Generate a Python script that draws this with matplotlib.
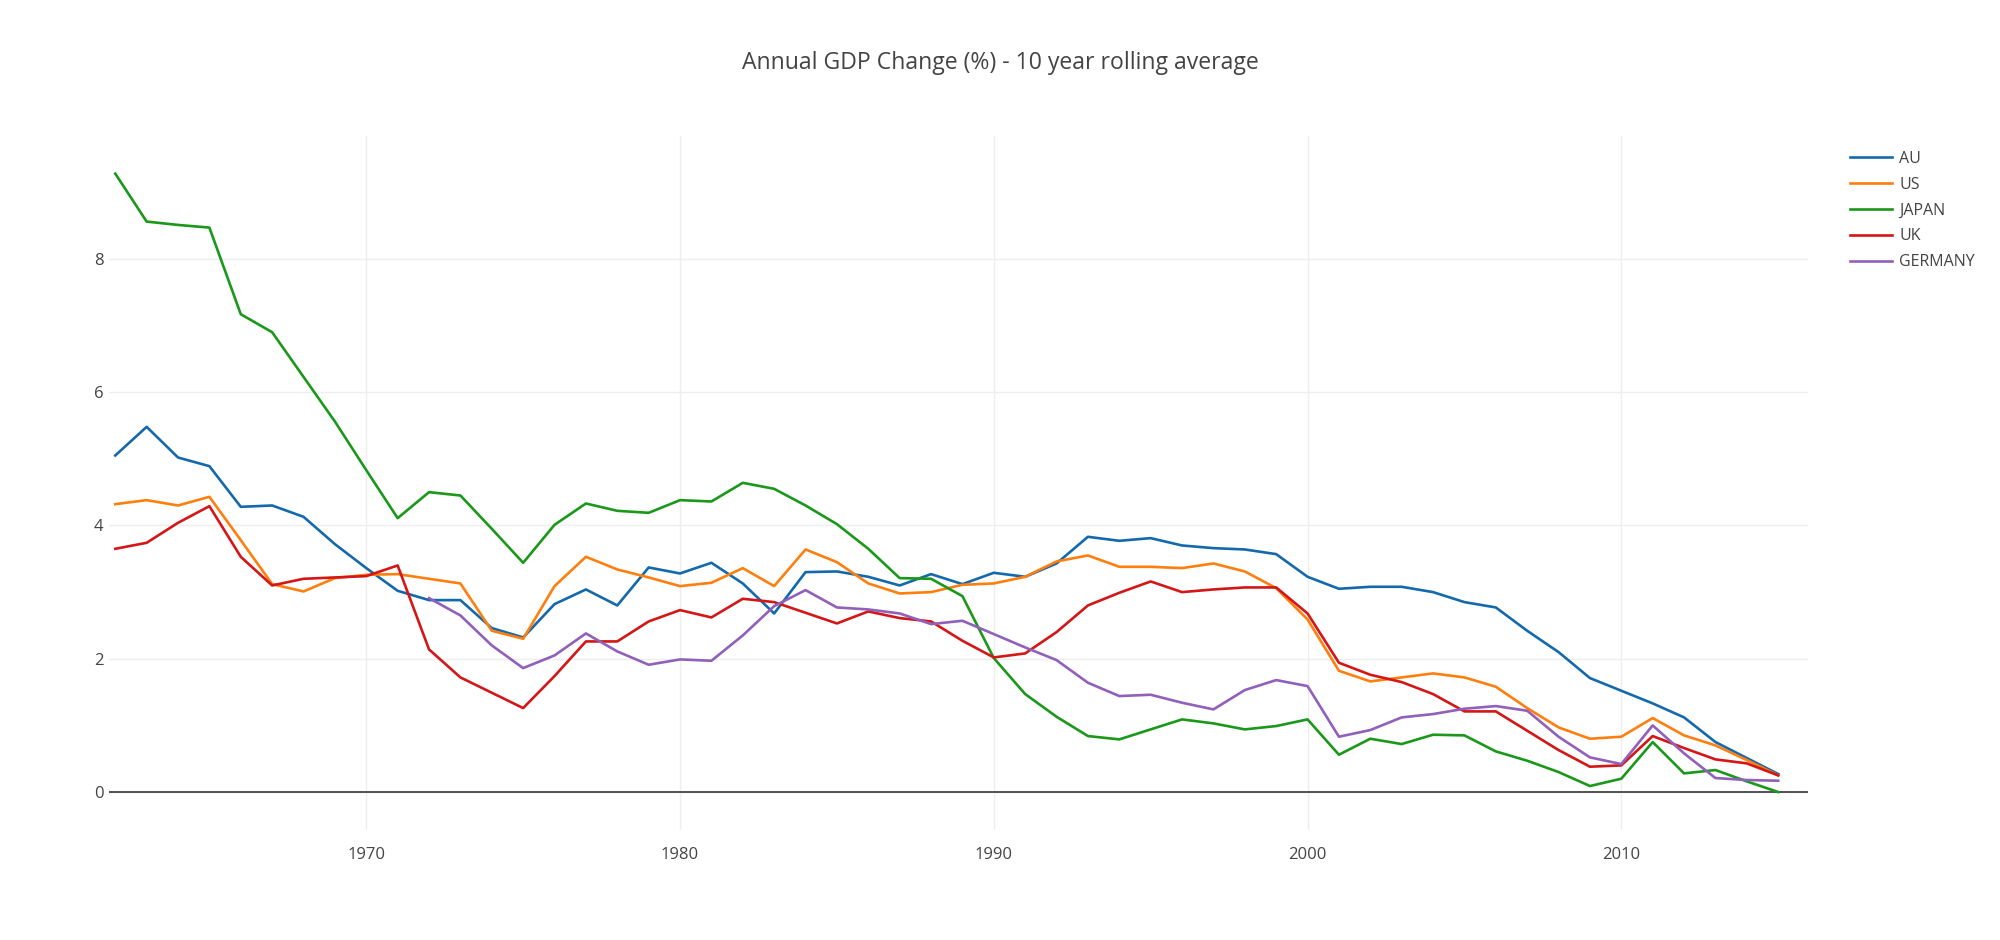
import matplotlib
matplotlib.use("Agg")
import matplotlib.pyplot as plt
import numpy as np

# data (10 year rolling average of annual GDP change, %)
years = list(range(1962, 2016))
germany_years = list(range(1972, 2016))

au = [5.05, 5.48, 5.02, 4.89, 4.28, 4.30, 4.13, 3.72, 3.36, 3.02,
      2.88, 2.88, 2.46, 2.32, 2.82, 3.04, 2.80, 3.37, 3.28, 3.44,
      3.13, 2.68, 3.30, 3.31, 3.23, 3.10, 3.27, 3.12, 3.29, 3.23,
      3.43, 3.83, 3.77, 3.81, 3.70, 3.66, 3.64, 3.57, 3.23, 3.05,
      3.08, 3.08, 3.00, 2.85, 2.77, 2.42, 2.10, 1.71, 1.52, 1.33,
      1.12, 0.75, 0.51, 0.27]
us = [4.32, 4.38, 4.30, 4.43, 3.78, 3.12, 3.01, 3.21, 3.26, 3.27,
      3.20, 3.13, 2.42, 2.30, 3.09, 3.53, 3.34, 3.22, 3.09, 3.14,
      3.36, 3.09, 3.64, 3.45, 3.13, 2.98, 3.00, 3.11, 3.13, 3.23,
      3.46, 3.55, 3.38, 3.38, 3.36, 3.43, 3.31, 3.06, 2.59, 1.82,
      1.66, 1.72, 1.78, 1.72, 1.58, 1.26, 0.97, 0.80, 0.83, 1.11,
      0.85, 0.70, 0.48, 0.25]
japan = [9.28, 8.56, 8.51, 8.47, 7.17, 6.90, 6.23, 5.56, 4.83, 4.11,
         4.50, 4.45, 3.95, 3.44, 4.01, 4.33, 4.22, 4.19, 4.38, 4.36,
         4.64, 4.55, 4.30, 4.02, 3.65, 3.21, 3.20, 2.94, 2.01, 1.47,
         1.13, 0.84, 0.79, 0.94, 1.09, 1.03, 0.94, 0.99, 1.09, 0.56,
         0.80, 0.72, 0.86, 0.85, 0.61, 0.47, 0.30, 0.09, 0.20, 0.75,
         0.28, 0.33, 0.16, 0.00]
uk = [3.65, 3.74, 4.04, 4.29, 3.53, 3.10, 3.20, 3.22, 3.24, 3.40,
      2.14, 1.72, 1.49, 1.26, 1.74, 2.26, 2.26, 2.56, 2.73, 2.62,
      2.90, 2.85, 2.69, 2.53, 2.71, 2.61, 2.56, 2.27, 2.02, 2.08,
      2.40, 2.80, 2.99, 3.16, 3.00, 3.04, 3.07, 3.07, 2.68, 1.94,
      1.76, 1.65, 1.47, 1.21, 1.21, 0.92, 0.63, 0.38, 0.40, 0.84,
      0.66, 0.49, 0.43, 0.25]
germany = [2.91, 2.65, 2.20, 1.86, 2.05, 2.38, 2.11, 1.91, 1.99, 1.97,
           2.35, 2.79, 3.03, 2.77, 2.74, 2.68, 2.52, 2.57, 2.37, 2.17,
           1.98, 1.64, 1.44, 1.46, 1.34, 1.24, 1.53, 1.68, 1.59, 0.83,
           0.93, 1.12, 1.17, 1.25, 1.29, 1.22, 0.83, 0.52, 0.42, 1.00,
           0.58, 0.21, 0.18, 0.17]

series = [("AU", years, au, "#1469ad"),
          ("US", years, us, "#ff7f0e"),
          ("JAPAN", years, japan, "#1a981a"),
          ("UK", years, uk, "#d41616"),
          ("GERMANY", germany_years, germany, "#9060bb")]

plt.rcParams['font.family'] = ['Open Sans', 'DejaVu Sans']

fig = plt.figure(figsize=(20, 9.4), dpi=100)
ax = fig.add_axes([0.0545, 0.117, 0.8495, 0.738])

for name, xs, ys, col in series:
    ax.plot(xs, ys, color=col, lw=1.9, label=name, zorder=3)

ax.axhline(0, color="#444444", lw=1.3, zorder=2)

ax.set_xlim(1961.8, 2015.95)
ax.set_ylim(-0.57, 9.84)
ax.set_xticks([1970, 1980, 1990, 2000, 2010])
ax.set_yticks([0, 2, 4, 6, 8])
ax.grid(True, color="#eeeeee", lw=1.0, zorder=0)
ax.tick_params(length=0, labelsize=12, colors="#444444", pad=4)
ax.tick_params(axis="x", pad=12)
for s in ax.spines.values():
    s.set_visible(False)

fig.suptitle("Annual GDP Change (%) - 10 year rolling average",
             x=0.5, y=0.946, fontsize=16.6, color="#444444")

fig.legend(loc="upper left", bbox_to_anchor=(0.918, 0.855), frameon=False,
           fontsize=11.5, handlelength=2.6, handletextpad=0.45,
           labelspacing=0.62, labelcolor="#444444")

fig.savefig("out.png", dpi=100, facecolor="white")
